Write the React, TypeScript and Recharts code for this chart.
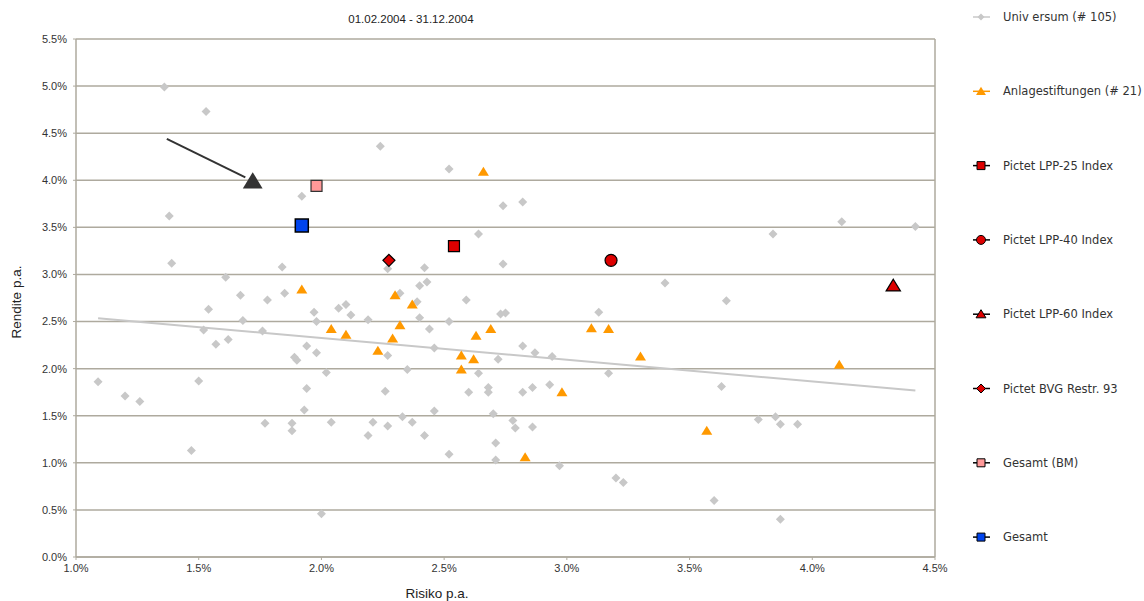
import React from 'react';
import { ScatterChart, Scatter, XAxis, YAxis, CartesianGrid, ReferenceLine } from 'recharts';

// Universum (# 105): [Risiko %, Rendite %]
const universumPoints: [number, number][] = [
  [1.36, 4.99], [1.53, 4.73], [1.38, 3.62], [1.39, 3.12], [1.09, 1.86], [1.20, 1.71], [1.26, 1.65],
  [1.47, 1.13], [1.50, 1.87], [1.52, 2.41], [1.54, 2.63], [1.57, 2.26], [1.61, 2.97], [1.62, 2.31],
  [1.67, 2.78], [1.68, 2.51], [1.76, 2.40], [1.78, 2.73], [1.77, 1.42], [1.84, 3.08], [1.85, 2.80],
  [1.88, 1.42], [1.88, 1.34], [1.89, 2.12], [1.90, 2.09], [1.92, 3.83], [1.94, 2.24], [1.93, 1.56],
  [1.94, 1.79], [1.97, 2.60], [1.98, 2.50], [1.98, 2.17], [2.02, 1.96], [2.00, 0.46], [2.04, 1.43],
  [2.07, 2.64], [2.10, 2.68], [2.12, 2.57], [2.19, 2.52], [2.19, 1.29], [2.21, 1.43], [2.24, 4.36],
  [2.26, 1.76], [2.27, 2.14], [2.27, 3.06], [2.27, 1.39], [2.32, 2.80], [2.33, 1.49], [2.35, 1.99],
  [2.37, 1.43], [2.39, 2.71], [2.40, 2.88], [2.40, 2.54], [2.43, 2.92], [2.42, 3.07], [2.42, 1.29],
  [2.44, 2.42], [2.46, 2.22], [2.46, 1.55], [2.52, 4.12], [2.52, 2.50], [2.52, 1.09], [2.59, 2.73],
  [2.60, 1.75], [2.64, 1.95], [2.64, 3.43], [2.68, 1.80], [2.68, 1.75], [2.70, 1.52], [2.71, 1.03],
  [2.71, 1.21], [2.72, 2.10], [2.73, 2.58], [2.75, 2.59], [2.74, 3.11], [2.74, 3.73], [2.78, 1.45],
  [2.79, 1.37], [2.82, 3.77], [2.82, 2.24], [2.82, 1.75], [2.86, 1.80], [2.86, 1.38], [2.87, 2.17],
  [2.93, 1.83], [2.94, 2.13], [2.97, 0.97], [3.13, 2.60], [3.17, 1.95], [3.20, 0.84], [3.23, 0.79],
  [3.40, 2.91], [3.60, 0.60], [3.63, 1.81], [3.65, 2.72], [3.78, 1.46], [3.84, 3.43], [3.85, 1.49],
  [3.87, 1.41], [3.87, 0.40], [3.94, 1.41], [4.12, 3.56], [4.42, 3.51],
];

// Anlagestiftungen (# 21)
const anlagePoints: [number, number][] = [
  [1.92, 2.84], [2.04, 2.42], [2.10, 2.36], [2.23, 2.19], [2.29, 2.32], [2.30, 2.78], [2.32, 2.46],
  [2.37, 2.68], [2.57, 2.14], [2.57, 1.99], [2.62, 2.10], [2.63, 2.35], [2.66, 4.09], [2.69, 2.42],
  [2.83, 1.06], [2.98, 1.75], [3.10, 2.43], [3.17, 2.42], [3.30, 2.13], [3.57, 1.34], [4.11, 2.04],
];

const lpp25: [number, number] = [2.54, 3.30];
const lpp40: [number, number] = [3.18, 3.15];
const lpp60: [number, number] = [4.33, 2.88];
const bvg93: [number, number] = [2.275, 3.15];
const gesamtBM: [number, number] = [1.98, 3.94];
const gesamt: [number, number] = [1.92, 3.52];
const highlight: [number, number] = [1.72, 3.99];
const arrowLine: [number, number][] = [[1.37, 4.44], [1.69, 4.03]];
const trendLine: [number, number][] = [[1.09, 2.535], [4.42, 1.767]];

const xTicks = [1.0, 1.5, 2.0, 2.5, 3.0, 3.5, 4.0, 4.5];
const yTicks = [0, 0.5, 1.0, 1.5, 2.0, 2.5, 3.0, 3.5, 4.0, 4.5, 5.0, 5.5];

const legendNames = [
  'Univ ersum (# 105)',
  'Anlagestiftungen (# 21)',
  'Pictet LPP-25 Index',
  'Pictet LPP-40 Index',
  'Pictet LPP-60 Index',
  'Pictet BVG Restr. 93',
  'Gesamt (BM)',
  'Gesamt',
];

const toData = (pts: [number, number][]) => pts.map(([x, y]) => ({ x, y }));
const pct = (v: number) => v.toFixed(1) + '%';

const GRID = '#aeaa9e';
const GRAY = '#c8c8c8';
const ORANGE = '#ff9900';
const RED = '#dd0000';
const PINK = '#ff9999';
const BLUE = '#0044ee';
const DARK = '#333333';

type Kind = 'diamond' | 'triangle' | 'square' | 'circle';

const markPath = (kind: Kind, cx: number, cy: number, s: number) => {
  if (kind === 'diamond') return `M${cx},${cy - s}L${cx + s},${cy}L${cx},${cy + s}L${cx - s},${cy}Z`;
  if (kind === 'triangle') return `M${cx},${cy - s}L${cx + s * 1.1},${cy + s * 0.8}L${cx - s * 1.1},${cy + s * 0.8}Z`;
  return `M${cx - s},${cy - s}L${cx + s},${cy - s}L${cx + s},${cy + s}L${cx - s},${cy + s}Z`;
};

const makeShape = (kind: Kind, fill: string, s: number, stroke?: string, sw = 1.2) => (props: any) => {
  const { cx, cy } = props;
  if (cx == null || cy == null) return <g />;
  if (kind === 'circle')
    return <circle cx={cx} cy={cy} r={s} fill={fill} stroke={stroke || 'none'} strokeWidth={sw} />;
  return <path d={markPath(kind, cx, cy, s)} fill={fill} stroke={stroke || 'none'} strokeWidth={sw} />;
};

const legendIcons: { kind: Kind; fill: string; line: string; stroke?: string; s: number }[] = [
  { kind: 'diamond', fill: GRAY, line: GRAY, s: 3.5 },
  { kind: 'triangle', fill: ORANGE, line: ORANGE, s: 4.5 },
  { kind: 'square', fill: RED, line: '#000', stroke: '#000', s: 4 },
  { kind: 'circle', fill: RED, line: '#000', stroke: '#000', s: 4.5 },
  { kind: 'triangle', fill: RED, line: '#000', stroke: '#000', s: 4.5 },
  { kind: 'diamond', fill: RED, line: '#000', stroke: '#000', s: 4.5 },
  { kind: 'square', fill: PINK, line: '#000', stroke: '#000', s: 4 },
  { kind: 'square', fill: BLUE, line: '#000', stroke: '#000', s: 4 },
];

const LegendBox = () => (
  <svg width={184} height={601} style={{ position: 'absolute', left: 960, top: 0, display: 'block' }}>
    {legendNames.map((name, i) => {
      const cy = 17 + i * 74.3;
      const ic = legendIcons[i];
      const cx = 21;
      return (
        <g key={name}>
          <line x1={13} x2={30} y1={cy} y2={cy} stroke={ic.line} strokeWidth={1.5} />
          {ic.kind === 'circle' ? (
            <circle cx={cx} cy={cy} r={ic.s} fill={ic.fill} stroke={ic.stroke || 'none'} strokeWidth={1} />
          ) : (
            <path d={markPath(ic.kind, cx, cy, ic.s)} fill={ic.fill} stroke={ic.stroke || 'none'} strokeWidth={1} />
          )}
          <text x={43} y={cy + 4} fontSize={11.5} fill="#333" fontFamily="'DejaVu Sans', sans-serif">
            {name}
          </text>
        </g>
      );
    })}
  </svg>
);

export default function App() {
  return (
    <div style={{ position: 'absolute', left: 0, top: 0, width: 1144, height: 601, background: '#fff', overflow: 'hidden' }}>
      <ScatterChart width={1144} height={601} margin={{ top: 39, right: 209, bottom: 14, left: 16 }}>
        <CartesianGrid vertical={false} stroke={GRID} strokeWidth={1.5} />
        <XAxis
          type="number"
          dataKey="x"
          domain={[1, 4.5]}
          ticks={xTicks}
          tickFormatter={pct}
          height={30}
          axisLine={{ stroke: GRID, strokeWidth: 1.5 }}
          tickLine={{ stroke: GRID }}
          tickSize={3}
          tickMargin={4}
          tick={{ fontSize: 11, fill: '#333', fontFamily: "'Liberation Sans', Arial, sans-serif" }}
          allowDataOverflow
        />
        <YAxis
          type="number"
          dataKey="y"
          domain={[0, 5.5]}
          ticks={yTicks}
          tickFormatter={pct}
          width={60}
          axisLine={{ stroke: GRID, strokeWidth: 1.5 }}
          tickLine={{ stroke: GRID }}
          tickSize={3}
          tickMargin={6}
          tick={{ fontSize: 11, fill: '#333', fontFamily: "'Liberation Sans', Arial, sans-serif" }}
          allowDataOverflow
        />
        <ReferenceLine x={4.5} stroke={GRID} strokeWidth={1.5} />
        <ReferenceLine
          segment={trendLine.map(([x, y]) => ({ x, y }))}
          stroke="#c8c8c8"
          strokeWidth={2}
          ifOverflow="visible"
        />
        <Scatter data={toData(universumPoints)} shape={makeShape('diamond', GRAY, 4.5)} isAnimationActive={false} />
        <Scatter data={toData(anlagePoints)} shape={makeShape('triangle', ORANGE, 5)} isAnimationActive={false} />
        <Scatter data={toData([lpp25])} shape={makeShape('square', RED, 5.5, '#000')} isAnimationActive={false} />
        <Scatter data={toData([lpp40])} shape={makeShape('circle', RED, 6, '#000')} isAnimationActive={false} />
        <Scatter data={toData([lpp60])} shape={makeShape('triangle', RED, 6.5, '#000')} isAnimationActive={false} />
        <Scatter data={toData([bvg93])} shape={makeShape('diamond', RED, 6, '#000')} isAnimationActive={false} />
        <Scatter data={toData([gesamtBM])} shape={makeShape('square', PINK, 5.5, '#333')} isAnimationActive={false} />
        <Scatter data={toData([gesamt])} shape={makeShape('square', BLUE, 6.5, '#000', 1.5)} isAnimationActive={false} />
        <ReferenceLine
          segment={arrowLine.map(([x, y]) => ({ x, y }))}
          stroke={DARK}
          strokeWidth={2}
          ifOverflow="visible"
        />
        <Scatter data={toData([highlight])} shape={makeShape('triangle', DARK, 9)} isAnimationActive={false} />
      </ScatterChart>
      <LegendBox />
      <svg width={1144} height={601} style={{ position: 'absolute', left: 0, top: 0, pointerEvents: 'none' }}>
        <text x={411} y={23} textAnchor="middle" fontSize={11.5} fill="#222" fontFamily="'Liberation Sans', Arial, sans-serif">
          01.02.2004 - 31.12.2004
        </text>
        <text x={437} y={598} textAnchor="middle" fontSize={13.5} fill="#222" fontFamily="'Liberation Sans', Arial, sans-serif">
          Risiko p.a.
        </text>
        <text
          x={21}
          y={302}
          textAnchor="middle"
          fontSize={13.5}
          fill="#222"
          fontFamily="'Liberation Sans', Arial, sans-serif"
          transform="rotate(-90 21 302)"
        >
          Rendite p.a.
        </text>
      </svg>
    </div>
  );
}
